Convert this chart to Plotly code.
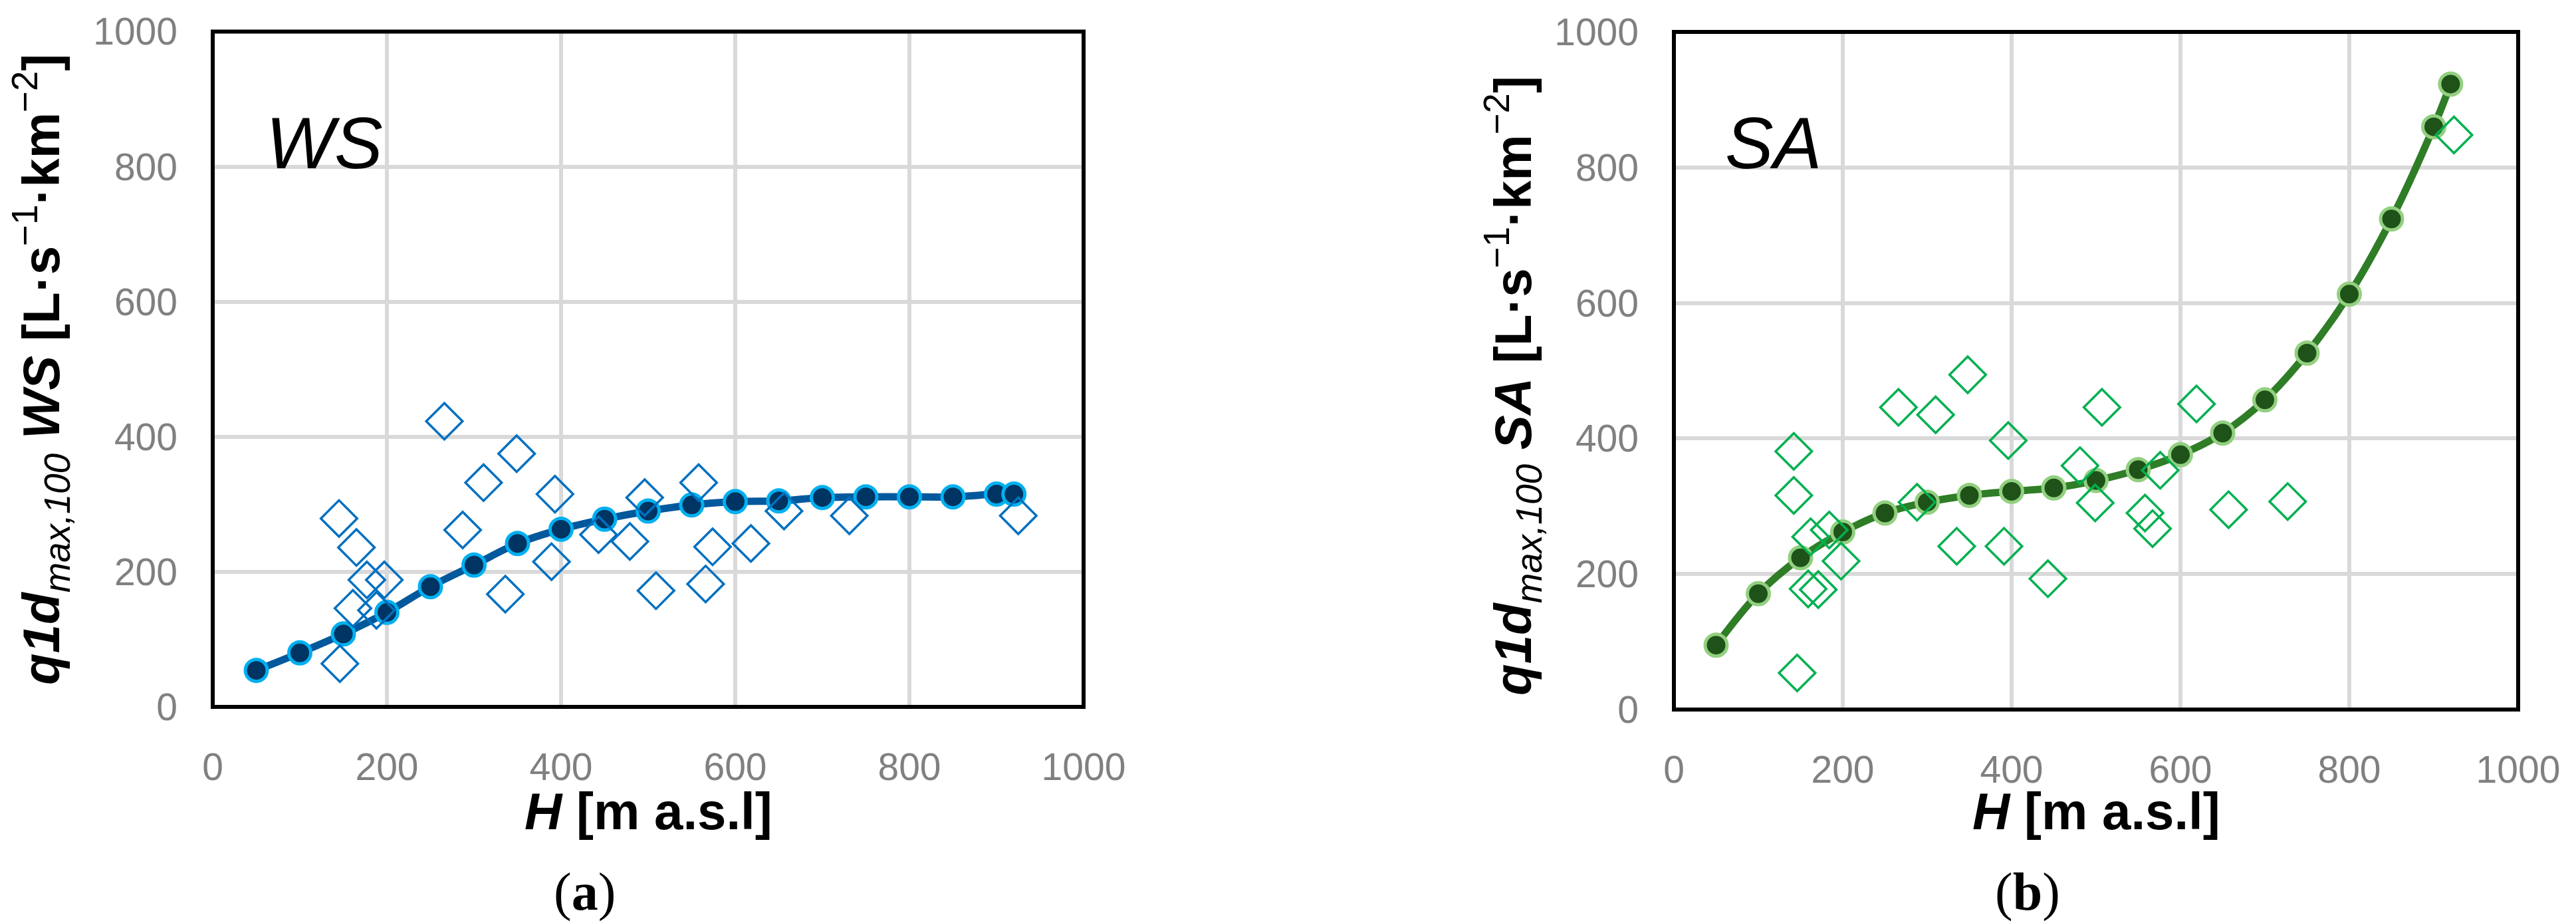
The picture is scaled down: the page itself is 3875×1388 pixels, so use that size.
import plotly.graph_objects as go

# ---------------- data ----------------
H_WS_LINE = [50, 100, 150, 200, 250, 300, 350, 400, 450, 500, 550, 600, 650, 700, 750, 800, 850, 900, 920]
Q_WS_LINE = [54, 80, 108, 140, 178, 210, 242, 263, 278, 290, 299, 304, 305, 310, 311, 311, 311, 315, 315]

H_WS_OBS = [145, 165, 177, 197, 161, 188, 146, 266, 349, 311, 287, 393, 389, 336, 443,
            496, 479, 509, 558, 574, 566, 618, 656, 731, 925]
Q_WS_OBS = [279, 236, 188, 188, 146, 143, 64, 423, 375, 332, 262, 315, 215, 167, 255,
            310, 245, 172, 332, 237, 182, 242, 290, 283, 283]

H_SA_LINE = [50, 100, 150, 200, 250, 300, 350, 400, 450, 500, 550, 600, 650, 700, 750, 800, 850, 900, 920]
Q_SA_LINE = [95, 171, 224, 262, 290, 306, 316, 322, 327, 338, 354, 376, 408, 457, 526, 613, 724, 860, 923]

H_SA_OBS = [348, 266, 310, 507, 619, 396, 142, 142, 481, 576, 288, 499, 558, 567, 657,
            727, 162, 184, 198, 159, 171, 146, 335, 391, 443, 924]
Q_SA_OBS = [494, 446, 435, 446, 451, 397, 381, 316, 360, 353, 306, 305, 290, 267, 295,
            307, 255, 265, 219, 178, 177, 54, 241, 241, 193, 848]

TICKS = [0, 200, 400, 600, 800, 1000]
TICK_TEXT = ["0", "200", "400", "600", "800", "1000"]

W, HGT = 3875, 1388


def px(x):
    return x / W


def py(y):
    return 1 - y / HGT


fig = go.Figure()

# WS panel
fig.add_trace(go.Scatter(
    x=H_WS_LINE, y=Q_WS_LINE, mode="lines+markers", xaxis="x", yaxis="y",
    line=dict(color="#02589C", width=11, shape="spline", smoothing=1),
    marker=dict(symbol="circle", size=33, color="#003462",
                line=dict(color="#00B0F0", width=5)),
    showlegend=False, hoverinfo="skip"))
fig.add_trace(go.Scatter(
    x=H_WS_OBS, y=Q_WS_OBS, mode="markers", xaxis="x", yaxis="y",
    marker=dict(symbol="diamond-open", size=42, color="#0070C0",
                line=dict(color="#0070C0", width=3.5)),
    showlegend=False, hoverinfo="skip"))

# SA panel
fig.add_trace(go.Scatter(
    x=H_SA_LINE, y=Q_SA_LINE, mode="lines+markers", xaxis="x2", yaxis="y2",
    line=dict(color="#2F7D26", width=11, shape="spline", smoothing=1),
    marker=dict(symbol="circle", size=33, color="#1F5219",
                line=dict(color="#92D080", width=5)),
    showlegend=False, hoverinfo="skip"))
fig.add_trace(go.Scatter(
    x=H_SA_OBS, y=Q_SA_OBS, mode="markers", xaxis="x2", yaxis="y2",
    marker=dict(symbol="diamond-open", size=42, color="#00B050",
                line=dict(color="#00B050", width=3.5)),
    showlegend=False, hoverinfo="skip"))

tickfont = dict(family="Liberation Sans", size=57, color="#808080")
axis_common = dict(range=[0, 1000], tickvals=TICKS, ticktext=TICK_TEXT,
                   showgrid=True, gridcolor="#D9D9D9", gridwidth=6,
                   zeroline=False, showline=False, ticks="",
                   tickfont=tickfont, automargin=False, fixedrange=True)

L_X0, L_X1, L_Y0, L_Y1 = 312, 1622, 1055, 39.5
R_X0, R_X1, R_Y0, R_Y1 = 2510, 3780, 1059, 40

fig.update_layout(
    width=W, height=HGT,
    margin=dict(l=0, r=0, t=0, b=0),
    paper_bgcolor="white", plot_bgcolor="white",
    xaxis=dict(domain=[px(L_X0), px(L_X1)], anchor="y", ticklabelstandoff=52, **axis_common),
    yaxis=dict(domain=[py(L_Y0), py(L_Y1)], anchor="x", ticklabelstandoff=52, **axis_common),
    xaxis2=dict(domain=[px(R_X0), px(R_X1)], anchor="y2", ticklabelstandoff=52, **axis_common),
    yaxis2=dict(domain=[py(R_Y0), py(R_Y1)], anchor="x2", ticklabelstandoff=52, **axis_common),
)

# frames
for xr, yr in (("x domain", "y domain"), ("x2 domain", "y2 domain")):
    fig.add_shape(type="rect", xref=xr, yref=yr, x0=0, x1=1, y0=0, y1=1,
                  line=dict(color="black", width=6), layer="above")

title_font = dict(family="Liberation Sans", size=78, color="black")


def ann(text, x, y, font, angle=0):
    fig.add_annotation(text=text, x=px(x), y=py(y), xref="paper", yref="paper",
                       xanchor="center", yanchor="middle", showarrow=False,
                       textangle=angle, font=font)


# x titles
ann("<b><i>H</i> [m a.s.l]</b>", (L_X0 + L_X1) / 2, 1212, title_font)
ann("<b><i>H</i> [m a.s.l]</b>", (R_X0 + R_X1) / 2, 1212, title_font)

# y titles
ann("<b><i>q1d</i></b><sub><i>max,100</i></sub><b> <i>WS</i> [L·s</b><sup>−1</sup><b>·km</b><sup>−2</sup><b>]</b>",
    54, 548, title_font, angle=-90)
ann("<b><i>q1d</i></b><sub><i>max,100</i></sub><b> <i>SA</i> [L·s</b><sup>−1</sup><b>·km</b><sup>−2</sup><b>]</b>",
    2268, 572, title_font, angle=-90)

# panel labels
lab_font = dict(family="Liberation Sans", size=109, color="black")
ann("<i>WS</i>", 480, 207, lab_font)
ann("<i>SA</i>", 2659, 207, lab_font)

cap_font = dict(family="Liberation Serif", size=80, color="black")
ann("(<b>a</b>)", 871, 1333, cap_font)
ann("(<b>b</b>)", 3042, 1333, cap_font)

fig.write_html("out.html")
